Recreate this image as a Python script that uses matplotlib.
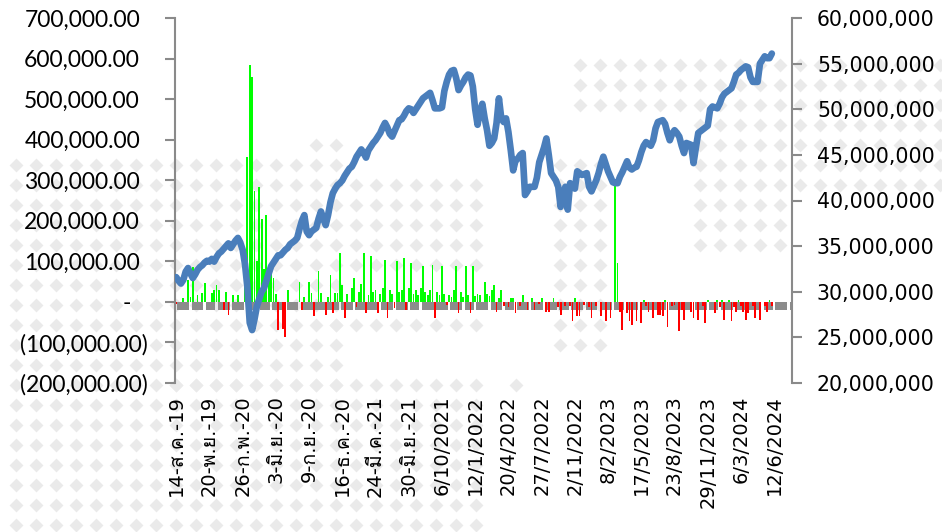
import numpy as np
import matplotlib
matplotlib.use("Agg")
import matplotlib.pyplot as plt
from matplotlib import font_manager as fm
from matplotlib.ft2font import FT2Font
from matplotlib.ticker import FixedLocator, FuncFormatter, NullFormatter

# ---------------- data ----------------
x_labels = ["14-ส.ค.-19", "20-พ.ย.-19", "26-ก.พ.-20", "3-มิ.ย.-20", "9-ก.ย.-20",
            "16-ธ.ค.-20", "24-มี.ค.-21", "30-มิ.ย.-21", "6/10/2021", "12/1/2022",
            "20/4/2022", "27/7/2022", "2/11/2022", "8/2/2023", "17/5/2023",
            "23/8/2023", "29/11/2023", "6/3/2024", "12/6/2024"]
label_week = [0, 14, 28, 42, 56, 70, 84, 98, 112, 126, 140, 154, 168, 182,
              196, 210, 224, 238, 252]
n_weeks = 260

left_ticks = [-200000, -100000, 0, 100000, 200000, 300000, 400000, 500000,
              600000, 700000]
right_ticks = [20e6, 25e6, 30e6, 35e6, 40e6, 45e6, 50e6, 55e6, 60e6]

# weekly net flow, thousands (left axis)
flow_k = [
    -5, 0, 0, 10, 0, 54, 12, 87, 0, 17,
    0, 22, 46, 0, 0, 21, 30, 42, 30, 0,
    -20, 25, -32, 0, 17, 0, 17, 0, 0, 79,
    358, 584, 554, 274, 100, 284, 205, 80, 214, 60,
    99, 59, 20, -69, 0, -66, -86, 30, 0, 0,
    0, 0, 50, -20, 13, 0, 50, 22, -36, 0,
    75, 22, 0, -32, 13, 67, -28, 22, 22, 120,
    42, -40, 20, 0, 35, 60, -13, 25, 45, 120,
    -27, 17, 113, 25, 30, -27, 20, 35, 103, -40,
    30, 20, -15, 100, 25, 30, 108, -20, 35, 95,
    20, 30, 17, 35, 89, 25, 17, 30, 90, -40,
    25, 17, 89, 20, -8, 17, 13, 30, 88, -27,
    25, 12, 89, 17, -27, 89, 15, 20, 17, 0,
    50, 20, 15, 30, 42, -24, 10, 30, -10, 0,
    -12, 10, 10, -27, 0, -10, 17, 0, -20, 0,
    10, -20, 0, -5, 10, 0, -24, -24, 0, 10,
    0, -12, -32, 0, -10, 0, -10, -48, 10, -36,
    -36, 0, -8, 0, -13, -40, 0, -10, 0, -36,
    0, -48, 0, -40, 0, 290, 95, -24, -69, 0,
    -27, -48, -57, 0, -48, 0, -52, 5, -10, -24,
    0, -40, 0, -32, -32, -36, 5, -61, 0, -10,
    -8, 0, -73, -20, -44, 0, 0, -24, -40, 0,
    -44, 0, -10, -52, 5, 0, 0, -27, 5, -13,
    5, -44, 0, 5, -48, -13, -24, 5, -10, -24,
    -44, -27, 0, -10, -40, 0, -44, 0, -10, -24,
    5, -10, 0,
]

# weekly level, millions (right axis)
level_m = [
    31.6, 31.2, 30.9, 31.3, 32.2, 32.6, 32.0, 31.5, 31.9, 32.4,
    32.7, 32.9, 33.2, 33.4, 33.3, 33.6, 33.3, 33.8, 34.2, 34.4,
    34.7, 35.0, 35.3, 34.8, 35.2, 35.6, 35.9, 35.4, 34.6, 33.0,
    30.5, 26.6, 25.8, 27.0, 28.4, 29.2, 30.0, 30.4, 31.2, 32.0,
    32.8, 33.2, 33.6, 34.0, 34.0, 34.3, 34.6, 34.8, 35.2, 35.4,
    35.6, 35.9, 36.9, 37.8, 38.4, 36.6, 36.2, 36.6, 36.8, 37.0,
    38.0, 38.8, 38.0, 37.3, 38.4, 39.8, 40.8, 41.3, 41.7, 41.9,
    42.2, 42.7, 43.1, 43.5, 43.7, 44.2, 44.8, 45.2, 45.6, 45.2,
    44.7, 45.5, 45.9, 46.3, 46.6, 47.0, 47.4, 48.0, 48.5, 48.0,
    47.3, 47.0, 47.6, 48.2, 48.8, 48.9, 49.3, 49.8, 50.1, 50.0,
    49.6, 50.0, 50.4, 50.8, 51.2, 51.4, 51.6, 51.8, 51.0, 50.1,
    50.1, 50.1, 50.2, 52.0, 53.0, 53.8, 54.2, 54.3, 53.4, 52.1,
    52.6, 53.0, 53.5, 53.8, 53.7, 52.5, 50.0, 48.3, 49.8, 50.6,
    49.0, 47.7, 46.0, 46.3, 46.8, 48.5, 51.2, 49.0, 48.6, 49.0,
    47.5, 45.5, 43.3, 44.4, 44.6, 45.0, 45.2, 40.6, 41.0, 41.5,
    41.5, 41.5, 42.5, 44.2, 45.0, 45.8, 46.8, 45.0, 43.0, 42.6,
    42.2, 41.5, 39.3, 40.5, 41.5, 39.0, 41.9, 41.6, 41.3, 43.2,
    43.0, 42.8, 42.9, 43.0, 41.5, 41.0, 41.6, 42.2, 43.0, 44.0,
    44.8, 44.0, 43.2, 42.6, 42.0, 41.9, 41.9, 42.6, 43.1, 43.7,
    44.3, 43.6, 43.4, 43.6, 43.7, 44.4, 45.3, 46.0, 46.4, 46.2,
    46.0, 46.6, 47.9, 48.6, 48.7, 48.8, 48.4, 47.4, 46.6, 47.3,
    47.7, 47.4, 47.0, 46.0, 45.2, 46.3, 46.2, 46.1, 44.1, 45.8,
    47.4, 47.6, 47.8, 48.0, 48.2, 50.0, 50.3, 50.2, 50.1, 50.6,
    51.3, 51.7, 51.9, 52.1, 52.3, 53.0, 53.8, 54.0, 54.3, 54.5,
    54.7, 54.6, 53.5, 53.0, 53.0, 53.0, 55.0, 55.4, 55.8, 55.6,
    55.6, 56.1,
]

# gray band series (thousands) and the weeks where it is empty
gray_level_k = -20
gray_gap_weeks = [0, 6, 12, 17, 23, 29, 35, 40, 46, 52, 58, 63, 69, 75, 80, 86,
                  92, 98, 103, 109, 115, 121, 126, 132, 138, 143, 149, 155, 161,
                  166, 172, 178, 184, 189, 195, 201, 207, 212, 218, 224, 229,
                  235, 241, 247, 252, 258]

# ---------------- fonts ----------------
def has_glyph(path, ch):
    try:
        return FT2Font(path).get_char_index(ord(ch)) != 0
    except Exception:
        return False

thai_fams = []
for fe in fm.fontManager.ttflist:
    if fe.name not in thai_fams and has_glyph(fe.fname, "ส"):
        thai_fams.append(fe.name)
xfam = ["DejaVu Sans"] + thai_fams[:1]

# ---------------- figure ----------------
W, H = 942, 532
fig = plt.figure(figsize=(W / 100, H / 100), dpi=100)

# decorative diamond watermark
bg = fig.add_axes([0, 0, 1, 1], zorder=-5)
bg.set_xlim(0, W)
bg.set_ylim(H, 0)
bg.axis("off")
regions = [  # x0, x1, y0, y1 (pixels), column offset
    (0, 172, 155, 532, 16), (172, 485, 385, 532, 16), (175, 340, 160, 385, 16),
    (340, 485, 185, 265, 16), (300, 345, 140, 160, 16), (330, 485, 318, 340, 16),
    (500, 530, 380, 400, 16), (555, 605, 160, 350, 0), (575, 942, 60, 110, 0),
    (690, 942, 110, 200, 0), (700, 790, 200, 250, 0),
]
dx, dy = [], []
for x0, x1, y0, y1, off in regions:
    for gx in np.arange(off, W + 20, 20):
        for gy in np.arange(5, H + 20, 20):
            if x0 <= gx <= x1 and y0 <= gy <= y1:
                dx.append(gx)
                dy.append(gy)
bg.scatter(dx, dy, marker="D", s=50, color="#eaeaea", linewidths=0)

L, R, T, B = 175, 792, 18, 383
ax = fig.add_axes([L / W, 1 - B / H, (R - L) / W, (B - T) / H])
ax.set_facecolor("none")

weeks = np.arange(len(flow_k))
flow = np.array(flow_k) * 1000.0

# gray band: one rectangle per run of consecutive non-empty weeks
run_start, run_len = [], []
prev = -1
for gap in gray_gap_weeks + [n_weeks]:
    if gap - prev > 1:
        run_start.append(prev + 1 - 0.5)
        run_len.append(gap - prev - 1)
    prev = gap
ax.bar(run_start, [gray_level_k * 1000.0] * len(run_start), width=run_len,
       align="edge", color="#8c8c8c", linewidth=0, zorder=1)

colors = ["#00ff00" if v >= 0 else "#ff0000" for v in flow]
ax.bar(weeks, flow, width=0.75, color=colors, linewidth=0, zorder=2)

ax.set_xlim(-0.5, n_weeks - 0.5)
ax.set_ylim(left_ticks[0], left_ticks[-1])
ax.yaxis.set_major_locator(FixedLocator(left_ticks))
ax.yaxis.set_major_formatter(NullFormatter())


def fmt_left(v):
    if abs(v) < 1:
        return "-"
    if v < 0:
        return "({:,.2f})".format(-v)
    return "{:,.2f}".format(v)


ytr = ax.get_yaxis_transform()
for v in left_ticks:
    if abs(v) < 1:
        xr = (131 - L) / (R - L)
    elif v < 0:
        xr = (148 - L) / (R - L)
    else:
        xr = (140 - L) / (R - L)
    ax.text(xr, v, fmt_left(v), transform=ytr, ha="right", va="center_baseline",
            fontsize=16.5, family=["Lato", "DejaVu Sans"])

ax.set_xticks(label_week)
ax.set_xticklabels(x_labels, rotation=90, fontsize=14, family=xfam)
ax.tick_params(axis="x", length=0, pad=9)
ax.tick_params(axis="y", direction="out", length=7, width=1.5, color="#8a8a8a")
for s in ["top", "right", "bottom"]:
    ax.spines[s].set_visible(False)
ax.spines["left"].set_color("#8a8a8a")
ax.spines["left"].set_linewidth(1.5)

ax2 = ax.twinx()
ax2.plot(np.arange(len(level_m)), np.array(level_m) * 1e6, color="#4a7ebb",
         lw=4.8, solid_joinstyle="round", solid_capstyle="round", zorder=5)
ax2.set_ylim(right_ticks[0], right_ticks[-1])
ax2.yaxis.set_major_locator(FixedLocator(right_ticks))
ax2.yaxis.set_major_formatter(FuncFormatter(lambda v, p: "{:,.0f}".format(v)))
ax2.tick_params(axis="y", direction="out", length=7, width=1.5, color="#8a8a8a",
                pad=11, labelsize=14.8)
for s in ["top", "left", "bottom"]:
    ax2.spines[s].set_visible(False)
ax2.spines["right"].set_color("#8a8a8a")
ax2.spines["right"].set_linewidth(1.5)

fig.savefig("out.png", dpi=100)
